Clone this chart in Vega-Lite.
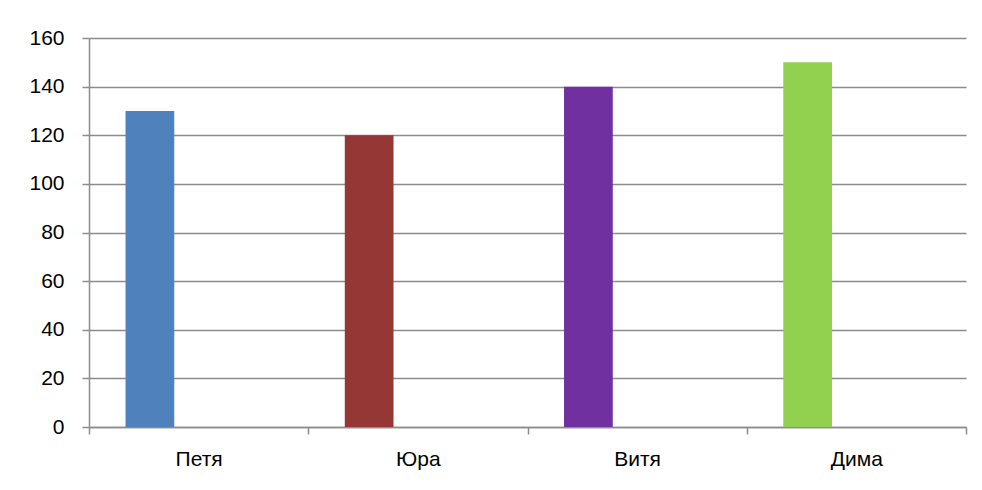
{
  "$schema": "https://vega.github.io/schema/vega-lite/v6.json",
  "autosize": {"type": "none"},
  "width": 877,
  "height": 389,
  "padding": {"left": 89, "top": 38, "right": 16, "bottom": 63},
  "background": "white",
  "config": {
    "view": {"stroke": null},
    "font": "Liberation Sans"
  },
  "data": {
    "values": [
      {"name": "Петя", "value": 130, "series": "s1"},
      {"name": "Юра", "value": 120, "series": "s1"},
      {"name": "Витя", "value": 140, "series": "s1"},
      {"name": "Дима", "value": 150, "series": "s1"}
    ]
  },
  "mark": {"type": "bar"},
  "encoding": {
    "x": {
      "field": "name",
      "type": "nominal",
      "sort": null,
      "scale": {"paddingInner": 0, "paddingOuter": 0},
      "axis": {
        "title": null,
        "labelAngle": 0,
        "tickBand": "extent",
        "tickSize": 7,
        "tickColor": "#8c8c8c",
        "tickWidth": 1.5,
        "domainColor": "#8c8c8c",
        "domainWidth": 1.5,
        "labelFontSize": 21,
        "labelColor": "#000000",
        "labelPadding": 14,
        "labelFont": "Liberation Sans"
      }
    },
    "xOffset": {
      "field": "series",
      "type": "nominal",
      "scale": {"domain": ["s1", "s2", "s3"], "paddingInner": 0, "paddingOuter": 0.75}
    },
    "y": {
      "field": "value",
      "type": "quantitative",
      "scale": {"domain": [0, 160], "nice": false},
      "axis": {
        "title": null,
        "values": [0, 20, 40, 60, 80, 100, 120, 140, 160],
        "grid": true,
        "gridColor": "#8c8c8c",
        "gridWidth": 1.5,
        "tickSize": 7,
        "tickColor": "#8c8c8c",
        "tickWidth": 1.5,
        "domainColor": "#8c8c8c",
        "domainWidth": 1.5,
        "labelFontSize": 21,
        "labelColor": "#000000",
        "labelPadding": 18,
        "labelFont": "Liberation Sans"
      }
    },
    "color": {
      "field": "name",
      "type": "nominal",
      "scale": {
        "domain": ["Петя", "Юра", "Витя", "Дима"],
        "range": ["#4F81BD", "#953735", "#7030A0", "#92D050"]
      },
      "legend": null
    }
  }
}
